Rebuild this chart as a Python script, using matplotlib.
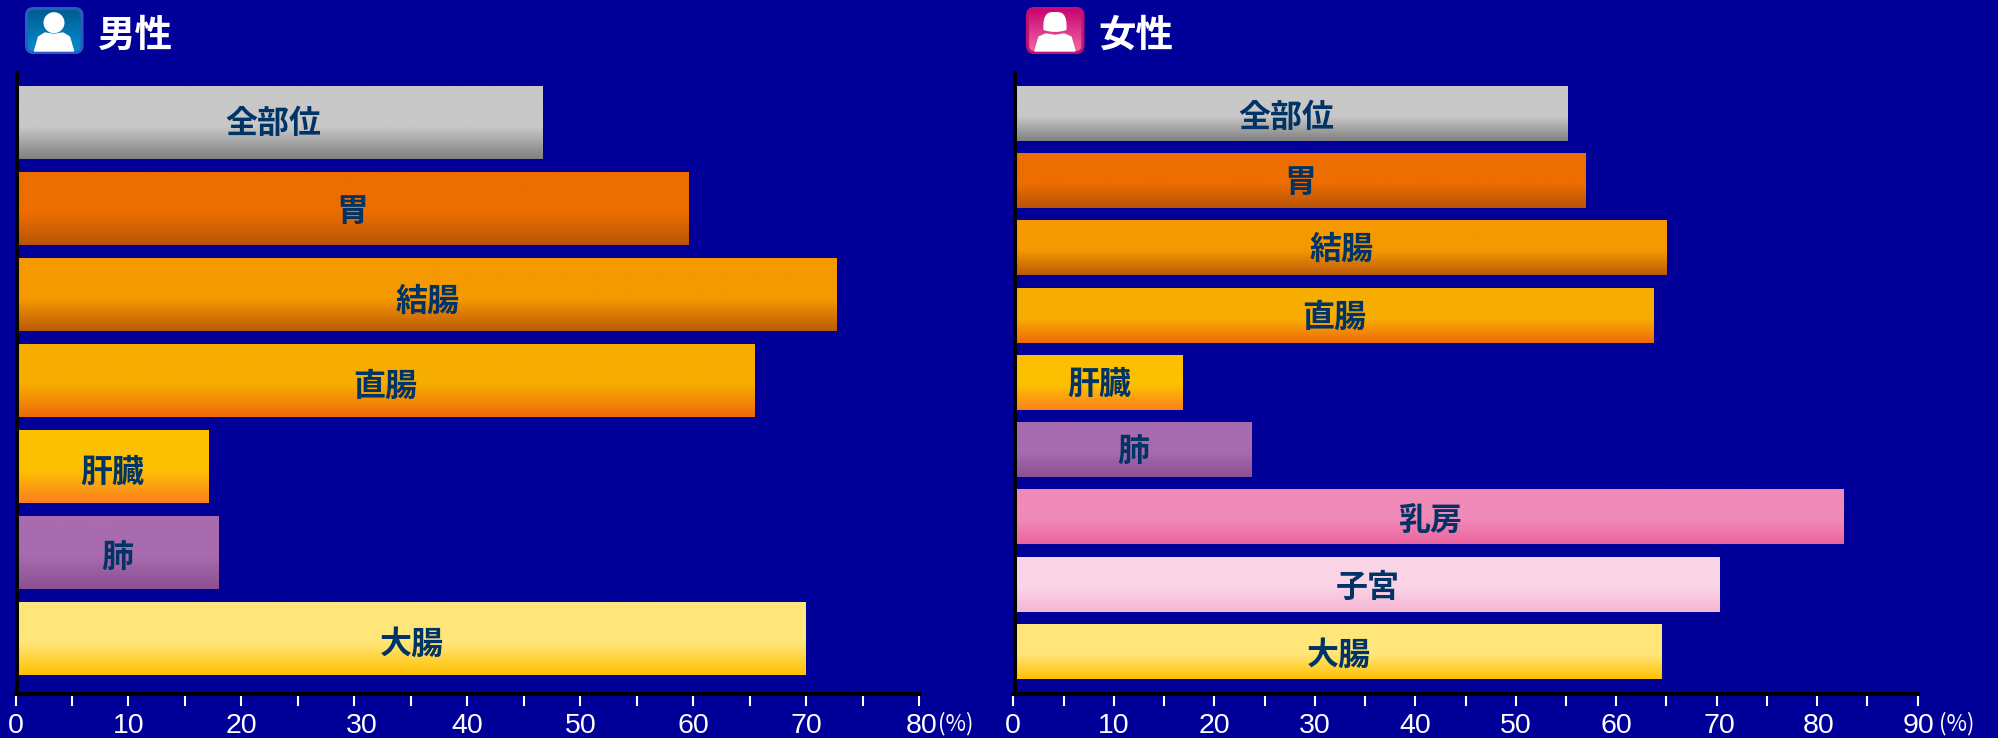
"""5-year survival by cancer site, men and women, as two gradient bar panels."""

import matplotlib

matplotlib.use("Agg")
import matplotlib.pyplot as plt
import numpy as np
from matplotlib.colors import to_rgb
from matplotlib.patches import Circle, FancyBboxPatch, PathPatch
from matplotlib.path import Path
from matplotlib.ticker import MultipleLocator
from matplotlib.transforms import ScaledTranslation

W, H = 1998, 738
BG = "#000099"
LABEL_COLOR = "#003366"
JP_FONT = ["Noto Sans CJK JP", "DejaVu Sans"]

male_sites = ["全部位", "胃", "結腸", "直腸", "肝臓", "肺", "大腸"]
male_values = [46.6, 59.5, 72.6, 65.4, 17.0, 17.9, 69.9]
male_top = ["#c8c8c8", "#ed6d00", "#f59900", "#f7ad00", "#fcc000", "#a76bae", "#ffe67a"]
male_bottom = ["#808080", "#b85408", "#bb5a08", "#ee6a0a", "#fb8020", "#8a5090", "#ffc000"]

female_sites = ["全部位", "胃", "結腸", "直腸", "肝臓", "肺", "乳房", "子宮", "大腸"]
female_values = [55.2, 57.0, 65.0, 63.7, 16.9, 23.7, 82.6, 70.3, 64.5]
female_top = ["#c8c8c8", "#ed6d00", "#f59900", "#f7ad00", "#fcc000", "#a76bae",
              "#f08ab8", "#fad4e6", "#ffe67a"]
female_bottom = ["#808080", "#b85408", "#bb5a08", "#ee6a0a", "#fb8020", "#8a5090",
                 "#ea649e", "#f5b5d2", "#ffc000"]

# hand placement of the labels, in pixels (right, down)
male_label_nudge = [(-5, 1), (1, 3), (2, 7), (0, 6), (1, 6), (1, 6), (1, 6)]
female_label_nudge = [(-4, 4), (1, 2), (2, 2), (1, 3), (1, 2), (1, 3), (2, 4), (1, 4), (1, 4)]
male_tick_nudge = {"30": 7, "80": 2}
female_tick_nudge = {"70": 3, "80": 1, "90": 1}


def gradient(top, bottom, n=128, flat=0.55):
    """Vertical ramp: flat top colour, then a blend down to the bottom colour."""
    t = np.clip((np.linspace(0, 1, n) - flat) / (1 - flat), 0, 1)[:, None]
    c = np.array(to_rgb(top)) * (1 - t) + np.array(to_rgb(bottom)) * t
    return c[:, None, :]


def panel(fig, x0, x1, xmax, first, pitch, bar_px, sites, values, tops, bottoms,
          label_nudge, tick_nudge):
    """One panel; x0/x1 are the pixel columns of 0 and xmax."""
    y_top, y_bottom = 73, 694
    ax = fig.add_axes([x0 / W, 1 - y_bottom / H, (x1 - x0) / W, (y_bottom - y_top) / H])
    ax.set_facecolor("none")
    h = bar_px / pitch
    for i, (site, v, c0, c1) in enumerate(zip(sites, values, tops, bottoms)):
        ax.imshow(gradient(c0, c1), extent=(0, v, i + h / 2, i - h / 2),
                  aspect="auto", interpolation="bilinear", zorder=1)
        dx, dy = label_nudge[i]
        ax.annotate(site, xy=(v / 2, i), xytext=(dx * 0.72, -dy * 0.72),
                    textcoords="offset points", ha="center", va="center",
                    color=LABEL_COLOR, fontsize=23, fontweight="bold",
                    family=JP_FONT, zorder=3)
    ax.set_xlim(0, xmax)
    ax.set_ylim((y_bottom - first) / pitch, (y_top - first) / pitch)

    for side in ("top", "right"):
        ax.spines[side].set_visible(False)
    for side in ("left", "bottom"):
        ax.spines[side].set_linewidth(2.9)
        ax.spines[side].set_color("black")
    ax.spines["left"].set_position(("outward", -1.3))

    ax.set_yticks([])
    ax.xaxis.set_major_locator(MultipleLocator(10))
    ax.xaxis.set_minor_locator(MultipleLocator(5))
    ax.tick_params(axis="x", which="both", length=8.6, width=1.5, color="white")
    ax.tick_params(axis="x", which="major", labelsize=20.5, labelcolor="white", pad=5)
    fig.canvas.draw()
    for lab in ax.get_xticklabels():
        lab.set_family("Liberation Sans")
        dx = tick_nudge.get(lab.get_text(), 0) / 100
        lab.set_transform(lab.get_transform() + ScaledTranslation(dx, 0, fig.dpi_scale_trans))
    return ax


def icon(ov, x, top, bottom, edge, female=False):
    """Rounded badge with a white bust."""
    box = FancyBboxPatch((x + 1.5, 8.5), 55.5, 44, boxstyle="round,pad=0,rounding_size=7",
                         facecolor="none", edgecolor=edge, linewidth=2.2, zorder=3)
    ov.add_patch(box)
    im = ov.imshow(gradient(top, bottom, flat=0.0), extent=(x, x + 58, 54, 7),
                   aspect="auto", zorder=2)
    im.set_clip_path(box)
    cx = x + 29
    if female:
        hair = Path([(cx - 11.5, 30), (cx - 12.5, 12), (cx - 6, 12), (cx, 12),
                     (cx + 6, 12), (cx + 12.5, 12), (cx + 11.5, 30),
                     (cx, 34), (cx - 11.5, 30)],
                    [Path.MOVETO, Path.CURVE4, Path.CURVE4, Path.CURVE4,
                     Path.CURVE4, Path.CURVE4, Path.CURVE4, Path.CURVE3, Path.CURVE3])
        ov.add_patch(PathPatch(hair, facecolor="white", edgecolor="none", zorder=4))
        half, shoulder = 20, 34
    else:
        ov.add_patch(Circle((cx, 22.7), 10.5, facecolor="white", edgecolor="none", zorder=4))
        half, shoulder = 19.5, 33
    body = Path([(cx - half, 51), (cx - half + 4, 37), (cx - 9, shoulder), (cx, shoulder + 1.5),
                 (cx + 9, shoulder), (cx + half - 4, 37), (cx + half, 51), (cx - half, 51)],
                [Path.MOVETO, Path.LINETO, Path.LINETO, Path.LINETO,
                 Path.LINETO, Path.LINETO, Path.LINETO, Path.CLOSEPOLY])
    ov.add_patch(PathPatch(body, facecolor="white", edgecolor="white", linewidth=1,
                           joinstyle="round", zorder=4))


def main():
    fig = plt.figure(figsize=(W / 100, H / 100), dpi=100, facecolor=BG)

    panel(fig, 15.5, 919.3, 80, 122.5, 86.1, 72.5,
          male_sites, male_values, male_top, male_bottom, male_label_nudge, male_tick_nudge)
    panel(fig, 1013.3, 1917.7, 90, 113.5, 67.25, 55,
          female_sites, female_values, female_top, female_bottom,
          female_label_nudge, female_tick_nudge)

    # overlay in pixel coordinates for the headers and unit marks
    ov = fig.add_axes([0, 0, 1, 1])
    ov.set_facecolor("none")
    ov.axis("off")
    icon(ov, 25, "#005a8c", "#0090d8", "#2a5cc0")
    icon(ov, 1026, "#c8006e", "#f070a8", "#c01070", female=True)
    ov.set_xlim(0, W)
    ov.set_ylim(H, 0)

    for x, title in [(98, "男性"), (1098, "女性")]:
        ov.text(x, 35, title, color="white", fontsize=27, fontweight="bold",
                family=JP_FONT, ha="left", va="center")
    for x in (938, 1939):
        ov.text(x, 724, "(%)", color="white", fontsize=16, family=JP_FONT,
                ha="left", va="center")

    fig.savefig("out.png", dpi=100, facecolor=BG)


if __name__ == "__main__":
    main()
